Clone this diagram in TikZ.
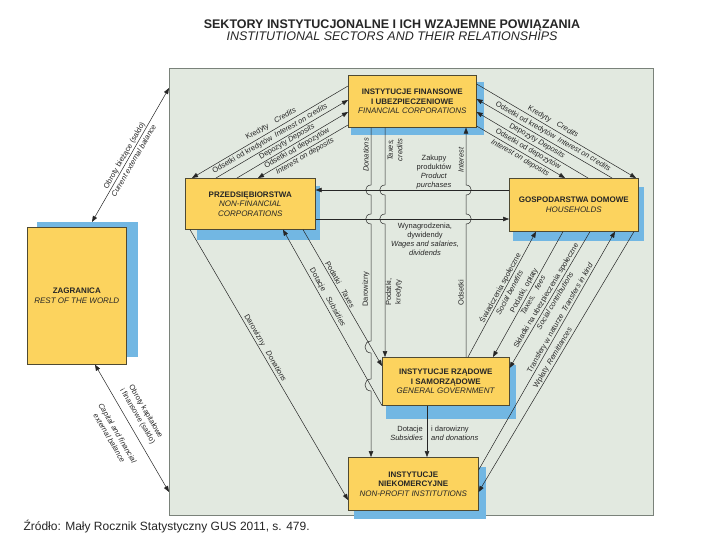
\documentclass[tikz,border=0pt]{standalone}
\usepackage{fontspec}
\setmainfont{Liberation Sans}
\usetikzlibrary{arrows.meta,calc}
\definecolor{panelbg}{HTML}{E2E9E0}
\definecolor{panelbd}{HTML}{7A827A}
\definecolor{boxyel}{HTML}{FCD35E}
\definecolor{boxbd}{HTML}{4F4A33}
\definecolor{shblue}{HTML}{72B7E3}
\definecolor{ink}{HTML}{262626}
\pgfdeclarelayer{back}
\pgfdeclarelayer{mid}
\pgfsetlayers{back,mid,main}
\tikzset{
  sector/.style={draw=boxbd,line width=0.6pt,fill=boxyel,inner sep=0pt,align=center,anchor=north west,font=\fontsize{8}{9.5}\selectfont,text=ink},
  shadowbox/.style={fill=shblue},
  conn/.style={draw=ink,line width=0.5pt},
  fwd/.style={-{Triangle[length=6pt,width=4.5pt]}},
  bwd/.style={{Triangle[length=6pt,width=4.5pt]}-},
  both/.style={{Triangle[length=6pt,width=4.5pt]}-{Triangle[length=6pt,width=4.5pt]}},
  lbl/.style={inner sep=0pt,align=center,font=\fontsize{7.5}{9.5}\selectfont,text=ink},
}
\begin{document}
\begin{tikzpicture}[x=1pt,y=-1pt]
\useasboundingbox (0,0) rectangle (720,540);
% panel
\begin{pgfonlayer}{back}
\fill[white] (0,0) rectangle (720,540);
\node[draw=panelbd,fill=panelbg,line width=1pt,inner sep=0pt,anchor=north west,minimum width=484pt,minimum height=447pt] (panel) at (169,68) {};
\end{pgfonlayer}
% titles
\node[anchor=base,font=\fontsize{12.5}{14}\selectfont\bfseries,text=ink] (t1) at (392,28.5) {SEKTORY INSTYTUCJONALNE I ICH WZAJEMNE POWIĄZANIA};
\node[anchor=base,font=\fontsize{12.5}{14}\selectfont\itshape,text=ink] (t2) at (392,40.5) {INSTITUTIONAL SECTORS AND THEIR RELATIONSHIPS};
\node[anchor=base west,font=\fontsize{12}{14}\selectfont,text=ink] (src) at (20,530) {Źródło: Mały Rocznik Statystyczny GUS 2011, s. 479.};
% sectors
\node[sector,minimum width=128pt,minimum height=52pt] (fin) at (348,75) {\textbf{INSTYTUCJE FINANSOWE}\\\textbf{I UBEZPIECZENIOWE}\\\textit{FINANCIAL CORPORATIONS}};
\node[sector,minimum width=130pt,minimum height=51pt] (nonfin) at (185,178) {\textbf{PRZEDSIĘBIORSTWA}\\\textit{NON-FINANCIAL}\\\textit{CORPORATIONS}};
\node[sector,minimum width=129pt,minimum height=53pt] (hh) at (509,178) {\textbf{GOSPODARSTWA DOMOWE}\\\textit{HOUSEHOLDS}};
\node[sector,minimum width=99pt,minimum height=137pt] (zag) at (27,227) {\textbf{ZAGRANICA}\\\textit{REST OF THE WORLD}};
\node[sector,minimum width=127pt,minimum height=48pt] (gov) at (382,357) {\textbf{INSTYTUCJE RZĄDOWE}\\\textbf{I SAMORZĄDOWE}\\\textit{GENERAL GOVERNMENT}};
\node[sector,minimum width=130pt,minimum height=53pt] (npi) at (348,457) {\textbf{INSTYTUCJE}\\\textbf{NIEKOMERCYJNE}\\\textit{NON-PROFIT INSTITUTIONS}};
% shadows
\begin{pgfonlayer}{mid}
\fill[shadowbox] ($(fin.north west)+(3,7)$) rectangle ($(fin.south east)+(7,7)$);
\fill[shadowbox] ($(nonfin.north west)+(12,8)$) rectangle ($(nonfin.south east)+(4,10)$);
\fill[shadowbox] ($(hh.north west)+(4,9)$) rectangle ($(hh.south east)+(5,9)$);
\fill[shadowbox] ($(zag.north west)+(10,-5)$) rectangle ($(zag.south east)+(11,-8)$);
\fill[shadowbox] ($(gov.north west)+(4,8)$) rectangle ($(gov.south east)+(6,13)$);
\fill[shadowbox] ($(npi.north west)+(6,10)$) rectangle ($(npi.south east)+(7,8)$);
\end{pgfonlayer}
% financial - non-financial
\draw[conn,fwd] ($(fin.north west)+(0,11)$) -- ($(nonfin.north west)+(7,0)$);
\draw[conn,bwd] ($(fin.north west)+(0,25)$) -- ($(nonfin.north west)+(31,0)$);
\draw[conn,bwd] ($(fin.north west)+(0,37)$) -- ($(nonfin.north west)+(52,0)$);
\draw[conn,fwd] ($(fin.north west)+(0,50)$) -- ($(nonfin.north west)+(73,0)$);
% financial - households
\draw[conn,fwd] ($(fin.north east)+(0,9)$) -- ($(hh.north west)+(127,0)$);
\draw[conn,bwd] ($(fin.north east)+(0,24)$) -- ($(hh.north west)+(103,0)$);
\draw[conn,bwd] ($(fin.north east)+(0,37)$) -- ($(hh.north west)+(79,0)$);
\draw[conn,fwd] ($(fin.north east)+(0,51)$) -- ($(hh.north west)+(56,0)$);
% horizontals
\draw[conn,fwd] ($(hh.north west)+(0,12)$) -- ($(nonfin.north east)+(0,12)$);
\draw[conn,fwd] ($(nonfin.north east)+(0,41)$) -- ($(hh.north west)+(0,41)$);
% verticals with jumps
\draw[conn,fwd] ($(fin.south west)+(23,0)$) -- (371,185) .. controls +(-7,0) and +(-7,0) .. (371,195) -- (371,214) .. controls +(-7,0) and +(-7,0) .. (371,224) -- (371,341) .. controls +(-8,0) and +(-8,0) .. (371,353) -- (371,379) .. controls +(-8,0) and +(-8,0) .. (371,391) -- ($(npi.north west)+(23,0)$);
\draw[conn,fwd] ($(fin.south west)+(37,0)$) -- (385,185) .. controls +(-7,0) and +(-7,0) .. (385,195) -- (385,214) .. controls +(-7,0) and +(-7,0) .. (385,224) -- ($(gov.north west)+(3,0)$);
\draw[conn,bwd] ($(fin.south west)+(118,0)$) -- (466,185) .. controls +(7,0) and +(7,0) .. (466,195) -- (466,214) .. controls +(7,0) and +(7,0) .. (466,224) -- ($(gov.north west)+(84,0)$);
% government - non-profit
\draw[conn,fwd] ($(gov.south west)+(45,0)$) -- ($(npi.north west)+(79,0)$);
% non-financial - government / non-profit
\draw[conn,fwd] ($(nonfin.south west)+(118,0)$) -- ($(gov.north west)+(0,9)$);
\draw[conn,bwd] ($(nonfin.south west)+(98,0)$) -- (gov.south west);
\draw[conn,fwd] ($(nonfin.south west)+(5,0)$) -- ($(npi.north west)+(0,43)$);
% households - government / non-profit
\draw[conn,fwd] ($(gov.north west)+(86,0)$) -- ($(hh.south west)+(27,0)$);
\draw[conn,fwd] ($(hh.south west)+(54,0)$) -- ($(gov.north west)+(111,0)$);
\draw[conn,fwd] ($(hh.south west)+(81,0)$) -- ($(gov.north east)+(0,11)$);
\draw[conn,fwd] ($(npi.north east)+(0,13)$) -- ($(hh.south west)+(106,0)$);
\draw[conn,fwd] ($(hh.south west)+(125,0)$) -- ($(npi.north east)+(0,35)$);
% rest of the world
\draw[conn,both] ($(zag.north west)+(65,-5)$) -- ($(panel.north west)+(0,20)$);
\draw[conn,both] ($(zag.south west)+(68,0)$) -- ($(panel.north west)+(0,424)$);
% labels fin - nonfin
\node[lbl,rotate=30] (l1) at (271,124) {Kredyty\quad\textit{Credits}};
\node[lbl,rotate=30] (l2) at (270,139) {Odsetki od kredytów\enspace\textit{Interest on credits}};
\node[lbl,rotate=30] (l3) at (287,142) {Depozyty \textit{Deposits}};
\node[lbl,rotate=30] (l4) at (297,148.7) {Odsetki od depozytów};
\node[lbl,rotate=30] (l5) at (305,156.5) {\textit{Interest on deposits}};
% labels fin - hh
\node[lbl,rotate=-30] (r1) at (553,122) {Kredyty\quad\textit{Credits}};
\node[lbl,rotate=-30] (r2) at (553,136.5) {Odsetki od kredytów\enspace\textit{Interest on credits}};
\node[lbl,rotate=-30] (r3) at (537,141) {Depozyty \textit{Deposits}};
\node[lbl,rotate=-30] (r4) at (528,149.5) {Odsetki od depozytów};
\node[lbl,rotate=-30] (r5) at (520,158) {\textit{Interest on deposits}};
% vertical labels
\node[lbl,rotate=90] (v1) at (366,155) {\textit{Donations}};
\node[lbl,rotate=90] (v2) at (395,150) {\textit{Taxes,}\\\textit{credits}};
\node[lbl,rotate=90] (v3) at (461,160) {\textit{Interest}};
\node[lbl,font=\fontsize{7.5}{9}\selectfont] (v4) at (434,172) {Zakupy\\produktów\\\textit{Product}\\\textit{purchases}};
\node[lbl,font=\fontsize{7.5}{9}\selectfont] (v5) at (425,239) {Wynagrodzenia,\\dywidendy\\\textit{Wages and salaries,}\\\textit{dividends}};
\node[lbl,rotate=90] (v6) at (366,289) {Darowizny};
\node[lbl,rotate=90] (v7) at (394,292) {Podatki,\\kredyty};
\node[lbl,rotate=90] (v8) at (461,293) {Odsetki};
% gov - npi labels
\node[lbl,align=right,anchor=east,font=\fontsize{7.5}{9}\selectfont] (g1) at (423,433) {Dotacje\\\textit{Subsidies}};
\node[lbl,align=left,anchor=west,font=\fontsize{7.5}{9}\selectfont] (g2) at (431,433) {i darowizny\\\textit{and donations}};
% nonfin - gov / npi labels
\node[lbl,rotate=-60.7] (n1) at (340,284.5) {Podatki\quad\textit{Taxes}};
\node[lbl,rotate=-60.7] (n2) at (327.4,297.5) {Dotacje\quad\textit{Subsidies}};
\node[lbl,rotate=-59.7] (n3) at (265,348) {Darowizny\quad\textit{Donations}};
% hh - gov / npi labels
\node[lbl,rotate=61.6,font=\fontsize{7.5}{10.5}\selectfont] (h1) at (504.2,290) {Świadczenia społeczne\\\textit{Social benefits}};
\node[lbl,rotate=60.9,font=\fontsize{7.5}{10.5}\selectfont] (h2) at (528.6,293) {Podatki, opłaty\\\textit{Taxes,\quad fees}};
\node[lbl,rotate=59.4,font=\fontsize{7.5}{10.5}\selectfont] (h3) at (550.4,298) {Składki na ubezpieczenia społeczne\\\textit{Social contributions}};
\node[lbl,rotate=60.2] (h4) at (560.5,318) {Transfery w naturze\enspace\textit{Transfers in kind}};
\node[lbl,rotate=59.1] (h5) at (553,357.8) {Wpłaty\enspace\textit{Remittances}};
% rest of the world labels
\node[lbl,rotate=60.1,font=\fontsize{7.5}{11}\selectfont] (z1) at (128.8,158) {Obroty bieżące (saldo)\\\textit{Current external balance}};
\node[lbl,rotate=-59.7] (z2) at (141.5,414) {Obroty kapitałowe\\i finansowe (saldo)};
\node[lbl,rotate=-59.7] (z3) at (113.5,435.5) {\textit{Capital and financial}\\\textit{external balance}};
\end{tikzpicture}
\end{document}
